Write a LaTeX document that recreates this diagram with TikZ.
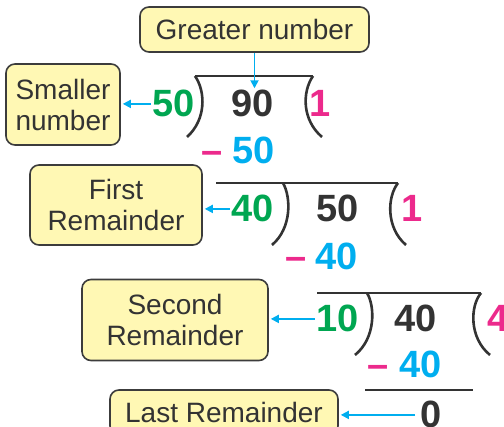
\documentclass[tikz,border=0pt]{standalone}
\usepackage{fontspec}
\setmainfont{Liberation Sans}
\usetikzlibrary{arrows.meta}
\definecolor{boxfill}{HTML}{FFF8B4}
\definecolor{boxline}{HTML}{3C3C3C}
\definecolor{arrowblue}{HTML}{00AEEF}
\definecolor{divgreen}{HTML}{00A651}
\definecolor{quotpink}{HTML}{EC2A8C}
\definecolor{darktext}{HTML}{333333}
\tikzstyle{labelbox} = [rectangle, rounded corners=9pt, draw=boxline, line width=1.6pt, fill=boxfill, text=darktext, align=center, font=\fontsize{28}{31}\selectfont, inner sep=0pt]
\tikzstyle{num} = [inner sep=0pt, anchor=base, font=\bfseries\fontsize{38}{40}\selectfont]
\tikzstyle{pointer} = [line width=1.8pt, draw=arrowblue, -{Triangle[length=8pt,width=8pt]}, shorten >=2pt]
\tikzstyle{bracket} = [line width=2.6pt, draw=darktext]
\begin{document}
\begin{tikzpicture}[x=1pt, y=-1pt]
	\useasboundingbox (0,0) rectangle (504,427);
	\clip (0,0) rectangle (504,427);

	% label boxes
	\node (greater) [labelbox, minimum width=229pt, minimum height=45pt] at (254.5,29.5) {Greater number};
	\node (smaller) [labelbox, minimum width=114pt, minimum height=81pt] at (63,104.5) {Smaller\\number};
	\node (first) [labelbox, minimum width=172pt, minimum height=80pt] at (116,205) {First\\Remainder};
	\node (second) [labelbox, minimum width=186pt, minimum height=81pt] at (175,320) {Second\\Remainder};
	\node (last) [labelbox, minimum width=228pt, minimum height=45pt] at (224,412.5) {Last Remainder};

	% first division
	\node (divA) [num, text=divgreen] at (174,117) {50};
	\node (dvdA) [num, text=darktext] at (253,117) {90};
	\node (quoA) [num, text=quotpink] at (320,117) {1};
	\node (minA) [num, text=quotpink] at (212,164) {–};
	\node (subA) [num, text=arrowblue] at (254,164) {50};
	\draw [bracket] (195,76) -- (313,76);
	\draw [bracket] (195,76) .. controls (206,92) and (206,120) .. (187,137);
	\draw [bracket] (313,76) .. controls (302,92) and (302,120) .. (322,137);

	% second division
	\node (divB) [num, text=divgreen] at (253,222) {40};
	\node (dvdB) [num, text=darktext] at (338,222) {50};
	\node (quoB) [num, text=quotpink] at (412,222) {1};
	\node (minB) [num, text=quotpink] at (296,270) {–};
	\node (subB) [num, text=arrowblue] at (337,270) {40};
	\draw [bracket] (216,183) -- (398,183);
	\draw [bracket] (283,183) .. controls (291,197) and (292,228) .. (272,245);
	\draw [bracket] (398,183) .. controls (387,197) and (386,228) .. (406,245);

	% third division
	\node (divC) [num, text=divgreen] at (338,332) {10};
	\node (dvdC) [num, text=darktext] at (416,332) {40};
	\node (quoC) [num, text=quotpink] at (498,332) {4};
	\node (minC) [num, text=quotpink] at (378,378) {–};
	\node (subC) [num, text=arrowblue] at (421,378) {40};
	\node (rest) [num, text=darktext] at (431,428) {0};
	\draw [bracket] (317,293) -- (481,293);
	\draw [bracket] (367,293) .. controls (375,306) and (376,338) .. (355,355);
	\draw [bracket] (481,293) .. controls (470,306) and (469,338) .. (490,355);
	\draw [bracket] (365,390) -- (473,390);

	% pointers
	\draw [pointer] (greater.south) -- (greater.south |- dvdA.north);
	\draw [pointer, shorten <=2pt] (divA.west) -- (divA.west -| smaller.east);
	\draw [pointer, shorten <=2pt] (divB.west) -- (divB.west -| first.east);
	\draw [pointer, shorten <=2pt] (divC.west) -- (divC.west -| second.east);
	\draw [pointer, shorten <=5pt] (rest.west) -- (rest.west -| last.east);
\end{tikzpicture}
\end{document}
